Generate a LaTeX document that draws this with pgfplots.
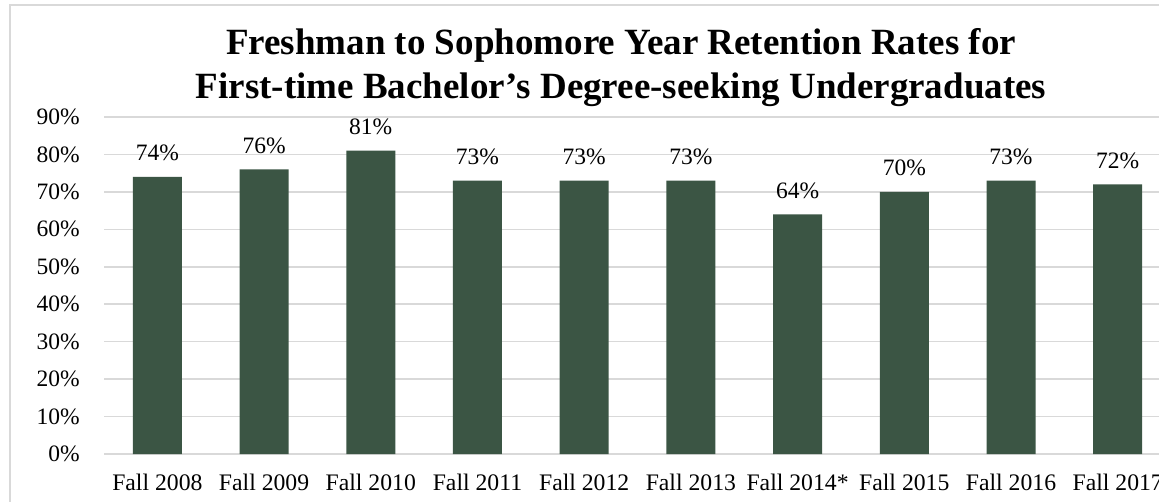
\documentclass[border=0pt]{standalone}
\usepackage{pgfplots}
\pgfplotsset{compat=1.18}
\usepackage{fontspec}
\setmainfont{Liberation Serif}
\definecolor{bargreen}{RGB}{59,85,68}
\definecolor{gridgray}{RGB}{217,217,217}
\begin{document}
\begin{tikzpicture}
\useasboundingbox (0,0) rectangle (1159pt,501pt);
\clip (0,0) rectangle (1159pt,501pt);
\fill[white] (0,0) rectangle (1159pt,501pt);
\draw[gridgray, line width=1.5pt] (10pt,-20pt) rectangle (1250pt,496pt);
\node[anchor=base, inner sep=0pt, font=\fontsize{37}{41}\selectfont\bfseries] at (621pt,446pt) {Freshman to Sophomore Year Retention Rates for};
\node[anchor=base, inner sep=0pt, font=\fontsize{37}{41}\selectfont\bfseries] at (621pt,402.7pt) {First-time Bachelor’s Degree-seeking Undergraduates};
\begin{axis}[
  at={(104pt,47pt)}, anchor=south west,
  scale only axis, width=1067pt, height=337pt,
  xmin=-0.5, xmax=9.5, ymin=0, ymax=90,
  ybar, bar width=49pt,
  clip=false,
  axis line style={draw=none},
  tick style={draw=none},
  major tick length=0pt,
  ymajorgrids,
  grid style={gridgray, line width=1.5pt},
  ytick={0,10,...,90},
  yticklabels={0\%,10\%,20\%,30\%,40\%,50\%,60\%,70\%,80\%,90\%},
  xtick={0,...,9},
  xticklabels={Fall 2008,Fall 2009,Fall 2010,Fall 2011,Fall 2012,Fall 2013,Fall 2014*,Fall 2015,Fall 2016,Fall 2017},
  /pgf/number format/assume math mode=true,
  yticklabel style={anchor=east, inner sep=0pt, xshift=-24pt, font=\fontsize{23.5}{27}\selectfont},
  xticklabel style={anchor=base, inner sep=0pt, yshift=-36pt, font=\fontsize{23.7}{27}\selectfont},
  nodes near coords={\pgfmathprintnumber{\pgfplotspointmeta}\%},
  every node near coord/.append style={anchor=base, inner sep=0pt, yshift=16pt, font=\fontsize{23.5}{27}\selectfont, black},
]
\addplot[fill=bargreen, draw=none] coordinates {(0,74) (1,76) (2,81) (3,73) (4,73) (5,73) (6,64) (7,70) (8,73) (9,72)};
\end{axis}
\end{tikzpicture}
\end{document}
